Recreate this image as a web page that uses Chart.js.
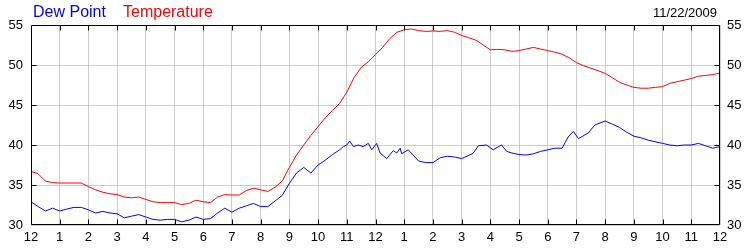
<!DOCTYPE html>
<html>
<head>
<meta charset="utf-8">
<script src="https://cdn.jsdelivr.net/npm/chart.js@4"></script>
<style>
  body { margin: 0; background: #fff; }
  #wrap { width: 750px; height: 250px; }
</style>
</head>
<body>
<div id="wrap"><canvas id="weatherChart" width="750" height="250"></canvas></div>
<script>
// temperature readings every 15 minutes, hours since midnight
const tempHours = [
  0, 0.25, 0.5, 0.75, 1, 1.25, 1.5, 1.75, 2, 2.25, 2.5, 2.75,
  3, 3.25, 3.5, 3.75, 4, 4.25, 4.5, 4.75, 5, 5.25, 5.5, 5.75,
  6, 6.25, 6.5, 6.75, 7, 7.25, 7.5, 7.75, 8, 8.25, 8.5, 8.75,
  9, 9.25, 9.5, 9.75, 10, 10.25, 10.5, 10.75, 11, 11.25, 11.5, 11.75,
  12, 12.25, 12.5, 12.75, 13, 13.25, 13.5, 13.75, 14, 14.25, 14.5, 14.75,
  15, 15.25, 15.5, 15.75, 16, 16.25, 16.5, 16.75, 17, 17.25, 17.5, 17.75,
  18, 18.25, 18.5, 18.75, 19, 19.25, 19.5, 19.75, 20, 20.25, 20.5, 20.75,
  21, 21.25, 21.5, 21.75, 22, 22.25, 22.5, 22.75, 23, 23.25, 23.5, 23.75, 24
];

const temperature = [
  36.7, 36.4, 35.5, 35.3,  35.25, 35.25, 35.25, 35.25,  34.8, 34.4, 34.1, 33.9,
  33.8, 33.5, 33.4, 33.5,  33.2, 32.9, 32.8, 32.8,  32.8, 32.55, 32.7, 33.1,
  32.9, 32.8, 33.5, 33.8,  33.75, 33.75, 34.3, 34.6,  34.4, 34.2, 34.7, 35.5,
  37.2, 38.75, 40.0, 41.2,  42.3, 43.4, 44.3, 45.2,  46.6, 48.4, 49.7, 50.4,
  51.3, 52.2, 53.3, 54.1,  54.4, 54.5, 54.3, 54.2,  54.25, 54.2, 54.3, 54.1,
  53.7, 53.4, 53.1, 52.5,  51.9, 51.95, 51.9, 51.7,  51.8, 52.0, 52.2, 52.0,
  51.8, 51.6, 51.35, 50.9,  50.3, 49.9, 49.6, 49.3,  48.95, 48.4, 47.85, 47.5,
  47.2, 47.1, 47.1, 47.2,  47.3, 47.7, 47.9, 48.1,  48.3, 48.6, 48.7, 48.8,  49.0
];

// dew point readings, denser where the trace is jagged
const dewHours = [
  0, 0.25, 0.5, 0.75, 1, 1.25, 1.5, 1.75, 2, 2.25, 2.5, 2.75,
  3, 3.25, 3.5, 3.75, 4, 4.25, 4.5, 4.75, 5, 5.25, 5.5, 5.75,
  6, 6.25, 6.5, 6.75, 7, 7.25, 7.5, 7.75, 8, 8.25, 8.5, 8.75,
  9, 9.25, 9.5, 9.75, 10, 10.25, 10.5, 10.75,
  10.88, 11, 11.1, 11.23, 11.4, 11.57, 11.75, 11.87, 12.04, 12.16, 12.39,
  12.62, 12.74, 12.86, 12.91, 13.14, 13.31, 13.5, 13.75,
  14, 14.25, 14.5, 14.75, 15, 15.25, 15.4, 15.58, 15.87, 16.1, 16.39, 16.57, 16.75,
  17, 17.25, 17.5, 17.75, 18, 18.25, 18.5, 18.71, 18.89, 19.07, 19.41, 19.64, 20,
  20.25, 20.5, 20.75, 21, 21.25, 21.5, 21.75, 22, 22.25, 22.5, 22.75, 23, 23.25, 23.5, 23.75, 24
];

const dewPoint = [
  32.9, 32.3, 31.75, 32.1,  31.75, 32.0, 32.2, 32.2,  31.9, 31.5, 31.7, 31.5,
  31.4, 30.9, 31.1, 31.3,  31.0, 30.7, 30.6, 30.7,  30.7, 30.4, 30.6, 31.0,
  30.7, 30.8, 31.5, 32.1,  31.6, 32.1, 32.4, 32.7,  32.3, 32.3, 33.0, 33.7,
  35.2, 36.5, 37.2, 36.5,  37.5, 38.1, 38.8, 39.4,
  39.8, 40.0, 40.5, 39.8, 40.0, 39.8, 40.2, 39.4, 40.2, 39.0, 38.3,
  39.3, 39.0, 39.6, 38.9, 39.4, 38.75, 38.0, 37.8,
  37.8, 38.4, 38.6, 38.5, 38.3, 38.7, 38.96, 39.9, 40.0, 39.4, 40.0, 39.2, 39.0,
  38.8, 38.75, 38.9, 39.2, 39.4, 39.6, 39.6, 41.0, 41.7, 40.8, 41.5, 42.5, 43.0,
  42.6, 42.2, 41.6, 41.1, 40.9, 40.6, 40.4, 40.2, 40.0, 39.9, 40.0, 40.0, 40.2, 39.9, 39.6, 39.8
];

const hourLabels = ['12', '1', '2', '3', '4', '5', '6', '7', '8', '9', '10', '11',
                    '12', '1', '2', '3', '4', '5', '6', '7', '8', '9', '10', '11', '12'];
const dateLabel = '11/22/2009';

const FONT = '"Liberation Sans", Arial, sans-serif';
const GRID = '#cccccc';

const toPoints = (xs, vals) => vals.map((v, i) => ({x: xs[i], y: v}));

// frame, inward tick marks and the header texts
const framePlugin = {
  id: 'frame',
  afterDraw(chart) {
    const {ctx, chartArea: a, scales} = chart;
    const L = Math.round(a.left) + 0.5, R = Math.round(a.right) - 0.5;
    const T = Math.round(a.top) + 0.5, B = Math.round(a.bottom) - 0.5;
    ctx.save();
    ctx.strokeStyle = '#000';
    ctx.lineWidth = 1;
    ctx.beginPath();
    ctx.rect(L, T, R - L, B - T);
    for (let h = 1; h < 24; h++) {
      const x = Math.round(scales.x.getPixelForValue(h)) + 0.5;
      ctx.moveTo(x, T); ctx.lineTo(x, T + 5);
      ctx.moveTo(x, B); ctx.lineTo(x, B - 5);
    }
    for (let v = 35; v < 55; v += 5) {
      const y = Math.round(scales.y.getPixelForValue(v)) + 0.5;
      ctx.moveTo(L, y); ctx.lineTo(L + 5, y);
      ctx.moveTo(R, y); ctx.lineTo(R - 5, y);
    }
    ctx.stroke();

    ctx.textBaseline = 'alphabetic';
    ctx.font = '16px ' + FONT;
    ctx.textAlign = 'left';
    ctx.fillStyle = '#0000ff';
    ctx.fillText('Dew Point', 33, 17);
    ctx.fillStyle = '#ff0000';
    ctx.fillText('Temperature', 123, 17);
    ctx.font = '13px ' + FONT;
    ctx.fillStyle = '#000';
    ctx.textAlign = 'right';
    ctx.fillText(dateLabel, 717, 17);
    ctx.restore();
  }
};

const yAxis = (position, padding, width) => ({
  type: 'linear',
  position,
  min: 30,
  max: 55,
  grid: { color: GRID, drawTicks: false, display: position === 'left' },
  border: { display: false },
  ticks: { stepSize: 5, padding, color: '#000', font: { family: FONT, size: 13 } },
  afterFit: (scale) => { scale.width = width; }
});

new Chart(document.getElementById('weatherChart'), {
  type: 'line',
  data: {
    datasets: [
      { label: 'Temperature', data: toPoints(tempHours, temperature), borderColor: '#ff0000', borderWidth: 1, pointRadius: 0, tension: 0 },
      { label: 'Dew Point', data: toPoints(dewHours, dewPoint), borderColor: '#0000ff', borderWidth: 1, pointRadius: 0, tension: 0 }
    ]
  },
  options: {
    responsive: false,
    animation: false,
    layout: { padding: { top: 25, left: 0, right: 0, bottom: 0 } },
    plugins: { legend: { display: false }, tooltip: { enabled: false } },
    scales: {
      x: {
        type: 'linear',
        min: 0,
        max: 24,
        grid: { color: GRID, drawTicks: false },
        border: { display: false },
        ticks: {
          stepSize: 1,
          autoSkip: false,
          maxRotation: 0,
          padding: 5,
          color: '#000',
          font: { family: FONT, size: 13 },
          callback: (v) => hourLabels[v]
        },
        afterFit: (scale) => { scale.height = 25; }
      },
      y: yAxis('left', 8, 31),
      y2: yAxis('right', 7, 30)
    }
  },
  plugins: [framePlugin]
});
</script>
</body>
</html>
